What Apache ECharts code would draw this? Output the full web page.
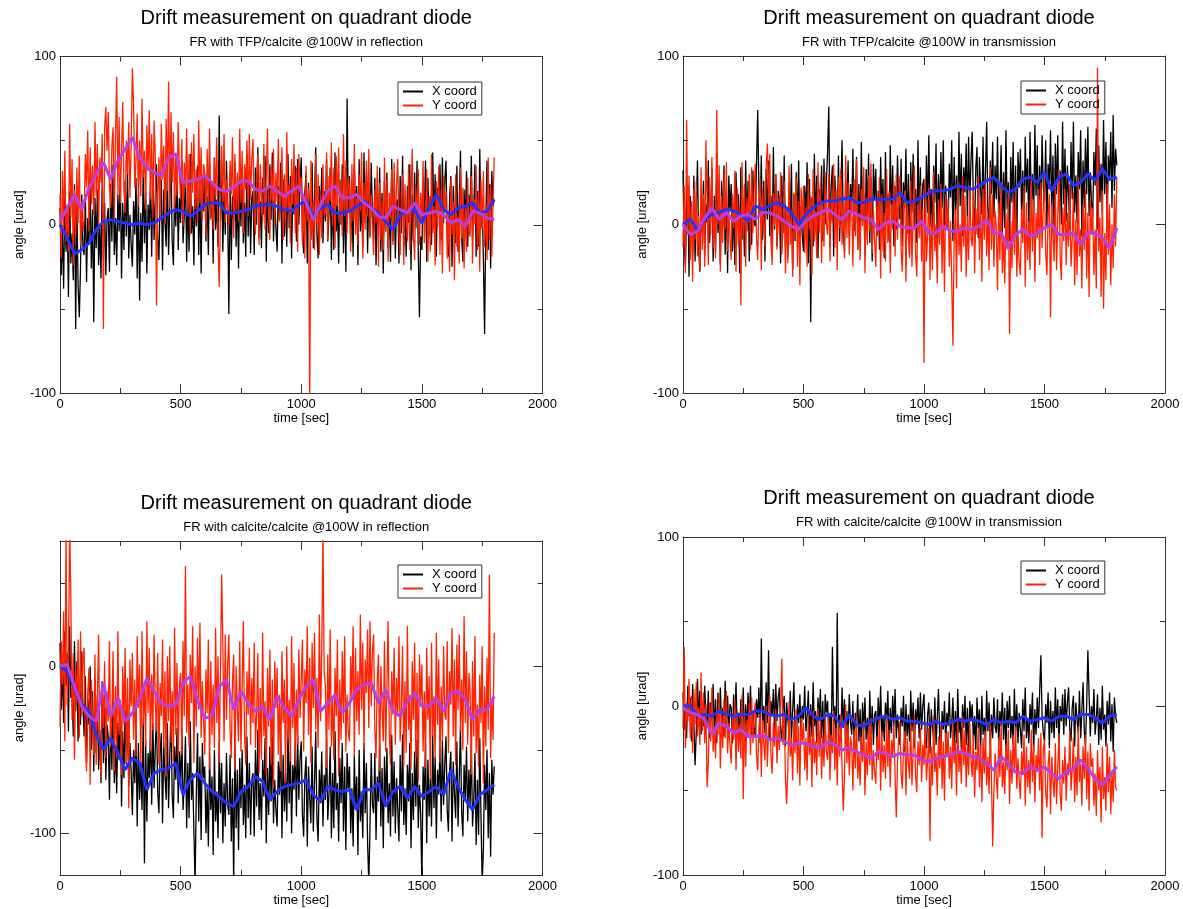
<!DOCTYPE html>
<html>
<head>
<meta charset="utf-8">
<title>Drift measurement on quadrant diode</title>
<script src="https://cdn.jsdelivr.net/npm/echarts@6/dist/echarts.min.js"></script>
<style>
  html, body { margin: 0; background: #fff; }
  #chart { width: 1183px; height: 909px; }
</style>
</head>
<body>
<div id="chart"></div>
<script>
// sampling of the traces (seconds between points)
const RAW_STEP = 5;
const AVG_STEP = 30;

const TITLE = "Drift measurement on quadrant diode";
const subtitles = [
  "FR with TFP/calcite @100W in reflection",
  "FR with TFP/calcite @100W in transmission",
  "FR with calcite/calcite @100W in reflection",
  "FR with calcite/calcite @100W in transmission",
];
const legendNames = ["X coord", "Y coord"];
const yRanges = [[-100, 100], [-100, 100], [-125, 75], [-100, 100]];
const yMajorTicks = [[-100, 0, 100], [-100, 0, 100], [-100, 0], [-100, 0, 100]];
const yMinorTicks = [-50, 50];

// TFP/calcite, reflection (one row = 100 s)
const tlX = [
  10, -30, -3, -38, 17, -16, 4, -43, 20, -23, -5, -33, 24, -62, 12, -36, -55, -26, 18, -13,
  -18, 18, -34, 4, -11, 24, -26, 9, -58, 16, -14, 21, -24, 0, -32, 29, -20, 13, -30, 3,
  10, -28, 24, -10, 36, -18, 4, -24, 18, -4, 31, -32, 13, -15, 26, -7, 33, -20, 6, -12,
  -25, 14, -6, 28, -32, 18, -45, 7, -22, 33, -11, 20, -29, 12, -3, 26, -19, 30, -9, 16,
  36, -8, -21, 15, 27, -27, 21, 2, -13, 33, -18, 12, 42, -10, -24, 19, -1, 30, -15, 16,
  1, 38, -11, 5, 33, -22, 17, -16, 42, -5, 11, -24, 26, -1, 35, -18, 21, -29, 29, 8,
  30, -10, 17, -18, 37, 4, 24, -23, 40, -3, 15, -13, 65, 2, 32, -16, 20, -6, 38, 7,
  -53, 31, -21, 17, 2, 37, -13, 22, -26, 29, -1, 34, -11, 13, -19, 42, -7, 26, -17, 16,
  20, -18, 34, 0, 46, -8, 14, -14, 28, 6, 41, -22, 23, -5, 36, 3, 43, -10, 16, -2,
  -16, 23, 3, 37, -23, 27, -7, 16, -13, 42, -2, 29, -20, 21, 6, 35, -10, 39, 0, 25,
  40, -4, -17, 19, 31, -23, 25, 6, -9, 37, -14, 16, 46, -6, -20, 23, 3, 34, -11, 20,
  2, 39, -10, 6, 34, -21, 18, -15, 43, -4, 12, -23, 27, 0, 36, -17, 22, -28, 75, 9,
  29, -11, 16, -19, 36, 3, 23, -24, 39, -4, 14, -14, 43, 1, 31, -17, 19, -7, 37, 6,
  -8, 28, -24, 14, -1, 34, -16, 19, -29, 26, -4, 31, -14, 10, -22, 39, -10, 23, -20, 13,
  15, -23, 29, -5, 41, -13, 9, -19, 23, 1, 36, -27, 18, -10, 31, -2, 38, -15, -55, -7,
  -15, 24, 4, 38, -22, 28, -6, 17, -12, 43, -1, 30, -19, 22, 7, 36, -9, 40, 1, 26,
  38, -6, -19, 17, 29, -25, 23, 4, -11, 35, -16, 14, 44, -8, -22, 21, 1, 32, -13, 18,
  4, 41, -8, 8, 36, -19, 20, -13, 45, -2, 14, -21, -65, 2, 38, -15, 24, -26, 32, 11,
  15,
];
const tlY = [
  18, -20, 32, -2, 44, -10, 12, -16, 60, 4, 39, -24, 21, -7, 34, 1, 41, -12, 14, -4,
  3, 42, 22, 56, -4, 46, 12, 35, 6, 61, 17, 48, -1, 40, 25, 54, -62, 58, 70, 44,
  67, 23, 10, 46, 58, 4, 52, 88, 18, 64, 13, 43, 73, 21, 7, 50, 30, 61, 16, 47,
  93, 71, 22, 38, 66, 11, 50, 17, 75, 28, 44, 9, 59, 32, 68, 15, 54, 4, 62, 41,
  -48, 13, 40, 5, 60, 27, 47, 0, 63, 20, 85, 10, 67, 25, 55, 7, 43, 17, 61, 30,
  15, 51, -1, 37, 22, 57, 7, 42, -6, 49, 19, 54, 9, 33, 1, 62, 13, 46, 3, 36,
  31, -7, 45, 11, 57, 3, 25, -3, 39, 17, 52, -11, -37, 6, 47, 14, 54, 1, 27, 9,
  -1, 38, 18, 52, -8, 42, 8, 31, 2, 57, 13, 44, -5, 36, 21, 50, 5, 54, 15, 40,
  51, 7, -6, 30, 42, -12, 36, 17, 2, 48, -3, 27, 57, 5, -9, 34, 14, 45, 0, 31,
  14, 51, 2, 18, 46, -9, 30, -3, 55, 8, 24, -11, 39, 12, 48, -5, 34, -16, 42, 21,
  28, -12, 15, -20, 35, 2, 22, -110, 38, -5, 13, -15, 42, 0, 30, -18, 18, -8, 36, 5,
  7, 43, -9, 29, 14, 49, -1, 34, -14, 41, 11, 46, 1, 25, -7, 54, 5, 38, -5, 28,
  22, -16, 36, 2, 48, -6, 16, -12, 30, 8, 43, -20, 25, -3, 38, 5, 45, -8, 18, 0,
  -18, 21, 1, 35, -25, 25, -9, 14, -15, 40, -4, 27, -22, 19, 4, 33, -12, 37, -2, 23,
  39, -5, -18, 18, 30, -24, 24, 5, -10, 36, -15, 15, 45, -7, -21, 22, 2, 33, -12, 19,
  1, 38, -11, 5, 33, -22, 17, -16, 42, -5, 11, -24, 26, -1, 35, -18, 21, -29, 29, 8,
  20, -20, 7, -28, 27, -6, 14, -33, 30, -13, 5, -23, 34, -8, 22, -26, 10, -16, 28, -3,
  -7, 29, -23, 15, 0, 35, -15, 20, -28, 27, -3, 32, -13, 11, -21, 40, -9, 24, -19, 14,
  40,
];
const tlXAvg = [
  0, -8, -17, -15, -11, -3, 2, 3, 2, 1, 0,
  1, 0, 1, 4, 7, 9, 8, 5, 8, 12,
  13, 13, 7, 7, 8, 9, 11, 12, 12, 11,
  9, 8, 12, 14, 5, 10, 12, 7, 7, 8,
  11, 14, 10, 7, 2, -3, 6, 8, 9, 1,
  10, 18, 9, 6, 10, 11, 13, 7, 8, 15,
];
const tlYAvg = [
  2, 10, 18, 9, 22, 30, 37, 27, 38, 45, 52,
  40, 34, 31, 29, 40, 42, 25, 26, 27, 29,
  25, 21, 20, 22, 26, 26, 21, 20, 23, 20,
  17, 20, 23, 13, 3, 12, 20, 23, 16, 16,
  18, 13, 10, 5, 4, 11, 9, 7, 13, 6,
  7, 8, 6, 1, 3, -1, 8, 7, 4, 3,
];

// TFP/calcite, transmission
const trX = [
  32, -12, -25, 11, 23, -31, 17, -2, -17, 29, -22, 8, 38, -14, -28, 15, -5, 26, -19, 12,
  1, 38, -11, 5, 33, -22, 17, -16, 42, -5, 11, -24, 26, -1, 35, -18, 21, -29, 29, 8,
  24, -16, 11, -24, 31, -2, 18, -29, 34, -9, 9, -19, 38, -4, 26, -22, 14, -12, 32, 1,
  -1, 35, 68, 21, 6, 41, -9, 26, -22, 33, 3, 38, -7, 17, -15, 46, -3, 30, -13, 20,
  15, -23, 29, -5, 41, -13, 9, -19, 23, 1, 36, -27, 18, -10, 31, -2, 38, -15, 11, -7,
  -16, 23, 3, 37, -23, 27, -58, 16, -13, 42, -2, 29, -20, 21, 6, 35, -10, 39, 0, 25,
  44, 70, -13, 23, 35, -19, 29, 10, -5, 41, -10, 20, 50, -2, -16, 27, 7, 38, -7, 24,
  8, 45, -4, 12, 40, -15, 24, -9, 49, 2, 18, -17, 33, 6, 42, -11, 28, -22, 36, 15,
  33, -7, 20, -15, 40, 7, 27, -20, 43, 0, 18, -10, 47, 5, 35, -13, 23, -3, 41, 10,
  3, 39, -13, 25, 10, 45, -5, 30, -18, 37, 7, 42, -3, 21, -11, 50, 1, 34, -9, 24,
  27, -11, 41, 7, 53, -1, 21, -7, 35, 13, 48, -15, 30, 2, 43, 10, 50, -3, 23, 5,
  -3, 36, 16, 50, -10, 40, 6, 29, 0, 55, 11, 42, -7, 34, 19, 48, 3, 52, 13, 38,
  55, 11, -2, 34, 46, -8, 40, 21, 6, 52, 1, 31, 61, 9, -5, 38, 18, 49, 4, 35,
  15, 52, 3, 19, 47, -8, 31, -2, 56, 9, 25, -10, 40, 13, 49, -4, 35, -15, 43, 22,
  45, 5, 32, -3, 52, 19, 39, -8, 55, 12, 30, 2, 59, 17, 47, -1, 35, 9, 53, 22,
  14, 50, -2, 36, 21, 56, 6, 41, -7, 48, 18, 53, 8, 32, 0, 61, 12, 45, 2, 35,
  35, -3, 49, 15, 61, 7, 29, 1, 43, 21, 56, -7, 38, 10, 51, 18, 58, 5, 31, 13,
  4, 43, 23, 57, -3, 47, 13, 36, 7, 62, 18, 49, 0, 41, 26, 55, 10, 65, 20, 45,
  35,
];
const trY = [
  -13, 23, -29, 62, -6, 29, -21, 14, -34, 21, -9, 26, -19, 5, -27, 34, -15, 18, -25, 50,
  14, -24, 28, -6, 40, -14, 8, -20, 68, 0, 35, -28, 17, -11, 30, -3, 37, -16, 10, -8,
  -21, 18, -2, 32, -28, 22, -12, 11, -48, 37, -7, 24, -25, 16, 1, 30, -15, 34, -5, 20,
  36, -8, -21, 15, 27, -27, 21, 2, -13, 33, 48, 12, 42, -10, -24, 19, -1, 30, -15, 16,
  -6, 31, -18, -2, 26, -29, 10, -23, 35, -12, 4, -31, 19, -8, 28, -25, 14, -36, 22, 1,
  23, -17, 10, -25, 30, -3, 17, -30, 33, -10, 8, -20, 37, -5, 25, -23, 13, -13, 31, 0,
  -6, 30, -22, 16, 1, 36, -14, 21, -27, 28, -2, 33, -12, 12, -20, 41, -8, 25, -18, 15,
  13, -25, 27, -7, 39, -15, 7, -21, 21, -1, 34, -29, 16, -12, 29, -4, 36, -17, 9, -9,
  -25, 14, -6, 28, -32, 18, -16, 7, -22, 33, -11, 20, -29, 12, -3, 26, -19, 30, -9, 16,
  29, -15, -28, 8, 20, -34, 14, -5, -20, 26, -25, 5, 35, -17, -31, 12, -8, 23, -22, 9,
  -82, 27, -22, -6, 22, -33, 6, -27, 31, -16, 0, -35, 15, -12, 24, -29, 10, -40, 18, -3,
  15, -25, 2, -33, -72, -11, 9, -38, 25, -18, 0, -28, 29, -13, 17, -31, 5, -21, 23, -8,
  -13, 23, -29, 9, -6, 29, -21, 14, -34, 21, -9, 26, -19, 5, -27, 34, -15, 18, -25, 8,
  -1, -39, 13, -21, 25, -29, -7, -35, 7, -15, 20, -65, 2, -26, 15, -18, 22, -31, -5, -23,
  -30, 9, -11, 23, -37, 13, -21, 2, -27, 28, -16, 15, -34, 7, -8, 21, -24, 25, -14, 11,
  27, -17, -30, 6, 18, -55, 12, -7, -22, 24, -27, 3, 33, -19, -33, 10, -10, 21, -24, 7,
  -13, 24, -25, -9, 19, -36, 3, -30, 28, -19, -3, -38, 12, -15, 21, -32, 7, -43, 15, -6,
  10, -30, -3, -38, 93, -16, 4, -43, 20, -50, -5, -33, 24, -18, 12, -36, 0, -26, 18, -13,
  28,
];
const trXAvg = [
  0, 3, -3, 3, 6, 7, 9, 8, 6, 2, 11,
  9, 11, 13, 11, 7, 0, 6, 10, 13, 14,
  14, 15, 16, 13, 13, 15, 15, 15, 15, 19,
  13, 14, 16, 19, 20, 20, 21, 23, 22, 21,
  23, 26, 28, 23, 19, 21, 27, 28, 25, 31,
  20, 28, 30, 23, 25, 30, 26, 33, 27, 28,
];
const trYAvg = [
  0, -6, -4, 4, 10, 3, 7, 2, 5, 6, 3,
  7, 7, 5, 2, -1, -3, 2, 5, 7, 9,
  6, 3, 8, 6, 4, 3, -3, 1, 2, -1,
  -2, -2, 2, -5, -5, -1, -4, -4, -2, -3,
  -1, 3, -5, -5, -14, -6, -3, -7, -5, -2,
  0, -6, -6, -5, -12, -5, -5, -8, -14, -2,
];

// calcite/calcite, reflection
const blX = [
  14, -26, 1, -34, 21, -12, 8, -39, 24, -19, -14, -42, 15, -27, 3, -45, -9, -35, 9, -22,
  -42, -6, -58, -20, -35, 0, -50, -15, -63, -8, -52, -17, -62, -38, -70, -9, -58, -25, -68, -35,
  -42, -80, -28, -62, -16, -70, -48, -76, -34, -56, -21, -84, -39, -67, -26, -59, -19, -72, -46, -64,
  -89, -50, -70, -36, -96, -46, -80, -57, -86, -31, -118, -44, -93, -52, -67, -38, -83, -34, -73, -48,
  -31, -75, -88, -52, -40, -94, -46, -65, -80, -34, -85, -55, -25, -77, -91, -48, -68, -37, -82, -51,
  -74, -37, -86, -70, -42, -97, -58, -91, -33, -80, -64, -99, -130, -76, -40, -93, -54, -104, -46, -67,
  -60, -100, -73, -108, -53, -86, -66, -113, -50, -93, -75, -103, -46, -88, -58, -106, -70, -96, -52, -83,
  -89, -53, -105, -67, -130, -47, -97, -62, -110, -55, -85, -50, -95, -71, -103, -42, -91, -58, -101, -68,
  -64, -102, -50, -84, -38, -92, -70, -98, -56, -78, -43, -106, -61, -89, -48, -81, -41, -94, -68, -86,
  -96, -57, -77, -43, -103, -53, -87, -64, -93, -38, -82, -51, -100, -59, -74, -45, -90, -41, -80, -55,
  -45, -89, -102, -66, -54, -108, -60, -79, -94, -48, -99, -69, -39, -91, -105, -62, -82, -51, -96, -65,
  -80, -43, -92, -76, -48, -103, -64, -97, -39, -86, -70, -105, -55, -82, -46, -99, -60, -110, -52, -73,
  -60, -100, -73, -108, -53, -86, -66, -113, -50, -93, -75, -103, -46, -88, -58, -106, -130, -96, -52, -83,
  -88, -52, -104, -66, -81, -46, -96, -61, -109, -54, -84, -49, -94, -70, -102, -41, -90, -57, -100, -67,
  -67, -105, -53, -87, -41, -95, -73, -101, -59, -81, -46, -109, -64, -92, -51, -84, -44, -97, -71, -89,
  -130, -60, -80, -46, -106, -56, -90, -67, -96, -41, -85, -54, -103, -62, -77, -48, -93, -44, -83, -58,
  -42, -86, -99, -63, -51, -105, -57, -76, -91, -45, -96, -66, -36, -88, -102, -59, -79, -48, -93, -62,
  -84, -47, -96, -80, -52, -107, -68, -101, -43, -90, -130, -109, -59, -86, -50, -103, -64, -114, -56, -77,
  -60,
];
const blY = [
  -36, 15, -11, 33, -45, 80, -24, 6, 85, 40, -32, 8, -56, -2, -22, 16, -43, 21, -30, 3,
  11, -46, -63, -16, -1, -71, -8, -33, -53, 7, -59, -20, 19, -49, -67, -11, -37, 3, -55, -15,
  -33, 15, -48, -28, 9, -63, -12, -55, 21, -41, -20, -65, 0, -35, 11, -58, -7, -85, 4, -24,
  8, -44, -8, -54, 18, -25, 1, -61, 21, -35, -11, -48, 27, -28, 11, -51, -5, -38, 19, -22,
  -39, 8, -59, -10, -30, 16, -49, -3, -66, 6, -33, 12, -46, -15, -57, 23, -41, 2, -54, -11,
  -4, -53, 15, -30, 60, -40, -11, -48, 7, -22, 24, -58, 0, -36, 17, -26, 26, -43, -9, -32,
  -53, -2, -28, 16, -62, 3, -41, -11, -49, 23, -34, 6, -58, -4, 55, 14, -45, 19, -32, 1,
  19, -38, -55, -8, 7, -63, 0, -25, -45, 15, -51, -12, 27, -41, -59, -3, -29, 11, -47, -7,
  -34, 14, -49, -29, 8, -64, -13, -56, 20, -42, -21, -66, -1, -36, 10, -59, -8, -73, 3, -25,
  -1, -53, -17, -63, 9, -34, -8, -70, 12, -44, -20, -57, 18, -37, 2, -60, -14, -47, 10, -31,
  -31, 16, -51, -2, -22, 24, -41, 5, -58, 14, -25, 20, -38, -7, -49, 31, -33, 10, 80, -3,
  -12, -61, 7, -38, 22, -48, -19, -56, -1, -30, 16, -66, -8, -44, 9, -34, 18, -51, -17, -40,
  -45, 6, -20, 24, -54, 11, -33, -3, -41, 31, -26, 14, -50, 4, -16, 22, -37, 27, -24, 9,
  19, -38, -55, -8, 7, -63, 0, -25, -45, 15, -51, -12, 27, -41, -59, -3, -29, 11, -47, -7,
  -30, 18, -45, -25, 12, -60, -9, -52, 24, -38, -17, -62, 3, -32, 14, -55, -4, -69, 7, -21,
  1, -51, -15, -61, 11, -32, -6, -68, 14, -42, -18, -55, 20, -35, 4, -58, -12, -45, 12, -29,
  -32, 15, -52, -3, -23, 23, -42, 4, -59, 13, -26, 19, -39, -8, -50, 30, -34, 9, -47, -4,
  -16, -65, 3, -42, 18, -52, -23, -60, -5, -34, 12, -70, -12, -48, 5, -38, 55, -55, -21, -44,
  20,
];
const blXAvg = [
  0, -3, -13, -23, -27, -41, -50, -43, -52, -62, -55,
  -58, -74, -64, -62, -61, -58, -77, -68, -64, -70,
  -75, -78, -82, -84, -75, -72, -66, -69, -80, -75,
  -72, -71, -70, -68, -77, -81, -72, -74, -75, -74,
  -86, -74, -74, -70, -84, -75, -72, -79, -72, -78,
  -75, -72, -77, -62, -72, -80, -86, -77, -74, -71,
];
const blYAvg = [
  0, 1, -12, -24, -30, -33, -10, -30, -19, -33, -28,
  -20, -7, -15, -22, -24, -23, -10, -6, -20, -31,
  -30, -12, -8, -26, -15, -22, -27, -24, -32, -18,
  -25, -30, -20, -12, -8, -27, -22, -17, -28, -22,
  -14, -11, -10, -22, -14, -27, -30, -21, -16, -24,
  -24, -19, -27, -16, -15, -20, -32, -26, -26, -18,
];

// calcite/calcite, transmission
const brX = [
  8, -14, 1, -19, 12, -6, 5, -21, 13, -10, -35, -16, 16, -8, 9, -17, 2, -12, 12, -5,
  -11, 9, -19, 2, -7, 13, -15, 4, -22, 8, -8, 11, -14, -1, -18, 15, -12, 6, -17, 1,
  -1, -22, 7, -12, 14, -16, -4, -19, 4, -8, 11, -24, 1, -14, 8, -10, 12, -17, -3, -13,
  -18, 4, -7, 11, -22, 40, -13, 0, -16, 14, -10, 33, -20, 3, -6, 10, -14, 13, -9, 5,
  11, -14, -21, -1, 6, -24, 2, -8, -16, 9, -19, -3, 14, -15, -23, 1, -10, 7, -18, 0,
  -8, 12, -15, -6, 9, -21, 1, -18, 14, -12, -3, -22, 5, -9, 10, -19, 3, -25, 7, -4,
  3, -19, -4, -24, 35, -11, 0, -26, 55, -15, -5, -21, 11, -13, 4, -22, -3, -17, 7, -10,
  -17, 3, -25, -4, -13, 7, -21, -2, -28, 2, -14, 5, -20, -7, -24, 9, -18, 0, -23, -5,
  -3, -24, 5, -14, 12, -18, -6, -21, 2, -10, 9, -26, -1, -16, 6, -12, 10, -19, -5, -15,
  -23, -1, -12, 6, -27, 1, -18, -5, -21, 9, -15, 2, -25, -2, -11, 5, -19, 8, -14, 0,
  7, -18, -25, -5, 2, -28, -2, -12, -20, 5, -23, -7, 10, -19, -27, -3, -14, 3, -22, -4,
  -12, 8, -19, -10, 5, -25, -3, -22, 10, -16, -7, -26, 1, -13, 6, -23, -1, -29, 3, -8,
  1, -21, -6, -26, 5, -13, -2, -28, 6, -17, -7, -23, 9, -15, 2, -24, -5, -19, 5, -12,
  -16, 4, -24, -3, -12, 8, -20, -1, -27, 3, -13, 6, -19, -6, -23, 10, -17, 1, -22, -4,
  -4, -25, 4, -15, 11, -19, -7, -22, 1, -11, 8, -27, -2, -17, 5, -13, 9, 30, -6, -16,
  -21, 1, -10, 8, -25, 3, -16, -3, -19, 11, -13, 4, -23, 0, -9, 7, -17, 10, -12, 2,
  11, -14, -21, -1, 6, -24, 2, -8, -16, 9, -19, -3, 14, -15, -23, 1, 33, 7, -18, 0,
  -10, 10, -17, -8, 7, -23, -1, -20, 12, -14, -5, -24, 3, -11, 8, -21, 1, -27, 5, -6,
  -10,
];
const brY = [
  -13, 35, -25, 2, -9, 16, -19, 6, -28, 10, -11, 14, -18, -1, -23, 20, -15, 8, -22, 1,
  -48, -34, 2, -21, 11, -27, -12, -31, -2, -17, 7, -37, -5, -25, 4, -19, 9, -28, -10, -23,
  -34, -6, -20, 4, -38, -3, -27, -11, -31, 7, -55, -2, -36, -8, -18, 2, -29, 5, -22, -5,
  2, -29, -38, -13, -4, -42, -8, -22, -32, 0, -36, -15, 6, -30, -40, -10, -24, -2, -34, -12,
  -26, 0, 28, -23, -4, -42, -58, -38, 3, -30, -19, -44, -9, -28, -2, -40, -12, -47, -7, -21,
  -10, -38, -19, -44, -5, -29, -15, -48, -3, -34, -21, -41, -1, -30, -9, -43, -17, -36, -5, -27,
  -32, -7, -44, -17, -28, -3, -38, -13, -47, -9, -30, -5, -37, -62, -42, 1, -34, -11, -41, -18,
  -23, -50, -14, -37, -5, -43, -28, -47, -18, -33, -9, -53, -21, -41, -12, -35, -7, -44, -26, -39,
  -46, -18, -32, -8, -50, -15, -39, -23, -43, -5, -36, -14, -48, -20, -30, -10, -41, -66, -34, -17,
  -9, -40, -49, -24, -15, -53, -19, -33, -43, -11, -47, -26, -5, -41, -51, -21, -35, -13, -45, -23,
  -35, -9, -44, -32, -13, -80, -24, -47, -6, -39, -28, -53, -18, -37, -11, -49, -21, -56, -16, -30,
  -15, -43, -24, -49, -10, -34, -20, -53, -8, -39, -26, -46, -6, -35, -14, -48, -22, -41, -10, -32,
  -42, -17, -54, -27, -38, -13, -48, -23, -57, -19, -40, -15, -47, -30, -52, -9, -44, -83, -51, -28,
  -28, -55, -19, -42, -10, -48, -33, -52, -23, -38, -14, -58, -26, -46, -17, -40, -12, -49, -31, -44,
  -55, -27, -41, -17, -59, -24, -48, -32, -52, -14, -45, -23, -57, -29, -39, -19, -50, -16, -78, -26,
  -20, -51, -60, -35, -26, -64, -30, -44, -54, -22, -58, -37, -16, -52, -62, -32, -46, -24, -56, -34,
  -41, -15, -50, -38, -19, -57, -30, -53, -12, -45, -34, -59, -24, -43, -17, -55, -27, -62, -22, -36,
  -31, -59, -40, -65, -26, -50, -36, -69, -24, -55, -42, -62, -22, -51, -30, -64, -38, -57, -26, -48,
  -50,
];
const brXAvg = [
  0, 0, -6, -5, -6, -3, -5, -6, -5, -5, -3,
  -3, -5, -6, -5, -8, -6, -1, -6, -8, -5,
  -6, -12, -5, -11, -12, -9, -7, -6, -8, -7,
  -9, -9, -10, -11, -9, -11, -10, -8, -9, -8,
  -9, -11, -8, -10, -9, -10, -6, -9, -8, -7,
  -9, -6, -6, -8, -5, -5, -7, -10, -6, -5,
];
const brYAvg = [
  -1, -4, -5, -8, -17, -10, -12, -16, -14, -18, -18,
  -17, -20, -19, -21, -23, -22, -22, -24, -25, -21,
  -23, -26, -25, -27, -29, -31, -27, -28, -30, -28,
  -29, -29, -32, -33, -31, -30, -29, -27, -28, -30,
  -31, -34, -38, -30, -34, -39, -40, -36, -38, -36,
  -40, -43, -39, -37, -32, -37, -43, -47, -41, -36,
];

const traces = [
  [tlX, tlY, tlXAvg, tlYAvg],
  [trX, trY, trXAvg, trYAvg],
  [blX, blY, blXAvg, blYAvg],
  [brX, brY, brXAvg, brYAvg],
];

// plot boxes in pixels
const boxes = [
  { left: 60, top: 56.5, width: 482.5, height: 336.5, titleTop: 3, legendLeft: 398, legendTop: 82 },
  { left: 683, top: 56, width: 482, height: 337, titleTop: 3, legendLeft: 1021, legendTop: 81 },
  { left: 60, top: 541, width: 482.5, height: 334, titleTop: 488, legendLeft: 398, legendTop: 565 },
  { left: 683, top: 537, width: 482, height: 338, titleTop: 483, legendLeft: 1021, legendTop: 561 },
];

const FONT = "'Liberation Sans', Arial, Helvetica, sans-serif";
const FRAME = "#333";
const RAW_WIDTH = 1.3;

function pairs(values, step) {
  return values.map((v, i) => [i * step, v]);
}

const grid = [], xAxis = [], yAxis = [], title = [], legend = [], series = [];

boxes.forEach((b, gi) => {
  const [yMin, yMax] = yRanges[gi];
  grid.push({ left: b.left, top: b.top, width: b.width, height: b.height });

  title.push({
    text: TITLE,
    subtext: subtitles[gi],
    left: b.left + b.width / 2,
    top: b.titleTop,
    textAlign: "center",
    itemGap: 8,
    textStyle: { fontFamily: FONT, fontSize: 20, fontWeight: "normal", color: "#000" },
    subtextStyle: { fontFamily: FONT, fontSize: 13, color: "#000" },
  });

  legend.push({
    data: legendNames,
    left: b.legendLeft,
    top: b.legendTop,
    orient: "vertical",
    icon: "rect",
    padding: [3, 5, 3, 5],
    itemGap: 1,
    itemWidth: 20,
    itemHeight: 2,
    borderColor: FRAME,
    borderWidth: 1,
    selectedMode: false,
    textStyle: { fontFamily: FONT, fontSize: 13, color: "#000", padding: [0, 0, 0, 4] },
  });

  const xBase = {
    type: "value",
    gridIndex: gi,
    min: 0,
    max: 2000,
    interval: 500,
    splitLine: { show: false },
    axisLine: { onZero: false, lineStyle: { color: FRAME } },
    axisTick: { inside: true, length: 9, lineStyle: { color: FRAME } },
    minorTick: { show: true, splitNumber: 2, length: 5, lineStyle: { color: FRAME } },
  };
  xAxis.push({
    ...xBase,
    position: "bottom",
    name: "time [sec]",
    nameLocation: "middle",
    nameGap: 18,
    nameTextStyle: { fontFamily: FONT, fontSize: 13, color: "#000" },
    axisLabel: { fontFamily: FONT, fontSize: 13, color: "#000", margin: 5, formatter: (v) => String(v) },
  });
  xAxis.push({ ...xBase, position: "top", axisLabel: { show: false } });

  const yBase = {
    type: "value",
    gridIndex: gi,
    min: yMin,
    max: yMax,
    splitLine: { show: false },
    axisLine: { onZero: false, lineStyle: { color: FRAME } },
  };
  yAxis.push({
    ...yBase,
    position: "left",
    name: "angle [urad]",
    nameLocation: "middle",
    nameGap: 34,
    nameTextStyle: { fontFamily: FONT, fontSize: 13, color: "#000" },
    axisTick: { inside: true, length: 9, customValues: yMajorTicks[gi], lineStyle: { color: FRAME } },
    axisLabel: { customValues: yMajorTicks[gi], fontFamily: FONT, fontSize: 13, color: "#000", margin: 4, formatter: (v) => String(v) },
  });
  yAxis.push({
    ...yBase,
    position: "right",
    axisTick: { inside: true, length: 9, customValues: yMajorTicks[gi], lineStyle: { color: FRAME } },
    axisLabel: { show: false },
  });
  ["left", "right"].forEach((pos) => {
    yAxis.push({
      ...yBase,
      position: pos,
      axisLine: { show: false, onZero: false },
      axisTick: { inside: true, length: 5, customValues: yMinorTicks, lineStyle: { color: FRAME } },
      axisLabel: { show: false },
    });
  });

  const [rawX, rawY, avgX, avgY] = traces[gi];
  const common = { type: "line", xAxisIndex: gi * 2, yAxisIndex: gi * 4, symbol: "none", silent: true };
  series.push(
    { ...common, name: "X coord", data: pairs(rawX, RAW_STEP), lineStyle: { color: "#000", width: RAW_WIDTH }, itemStyle: { color: "#000" }, z: 2 },
    { ...common, name: "Y coord", data: pairs(rawY, RAW_STEP), lineStyle: { color: "#ff2200", width: RAW_WIDTH }, itemStyle: { color: "#ff2200" }, z: 3 },
    { ...common, name: "X avg", data: pairs(avgX, AVG_STEP), lineStyle: { color: "#2233ff", width: 3 }, itemStyle: { color: "#2233ff" }, z: 4 },
    { ...common, name: "Y avg", data: pairs(avgY, AVG_STEP), lineStyle: { color: "#b540e6", width: 3 }, itemStyle: { color: "#b540e6" }, z: 5 }
  );
});

const chart = echarts.init(document.getElementById("chart"));
chart.setOption({
  animation: false,
  backgroundColor: "#fff",
  textStyle: { fontFamily: FONT },
  title,
  legend,
  grid,
  xAxis,
  yAxis,
  series,
});
</script>
</body>
</html>
